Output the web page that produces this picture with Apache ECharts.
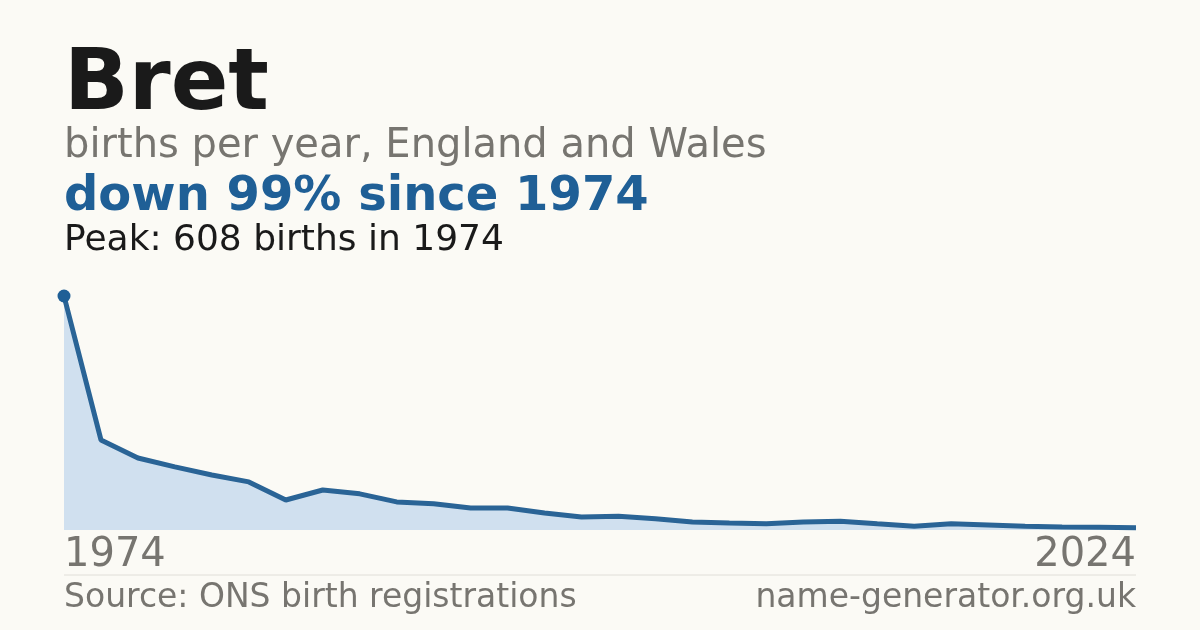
<!DOCTYPE html>
<html><head><meta charset="utf-8">
<script src="https://cdn.jsdelivr.net/npm/echarts@6/dist/echarts.min.js"></script>
<style>html,body{margin:0;background:#fbfaf5;}#c{width:1200px;height:630px;}</style>
</head><body><div id="c"></div>
<script>
const categories = Array.from({length:30},(_,i)=>String(i));
const births = [608,234,187,164,143,125,78,104,94,73,68,57,57,44,34,36,29,21,18,16,21,23,16,10,16,13,10,8,7,6];
const tickLabels = ['1974','2024'];
const chart = echarts.init(document.getElementById('c'));
const F = 'DejaVu Sans';
chart.setOption({
  backgroundColor:'#fbfaf5',
  animation:false,
  grid:{left:64,right:64,top:296,bottom:100},
  xAxis:{type:'category',data:categories,boundaryGap:false,show:false},
  yAxis:{type:'value',min:0,max:608,show:false},
  series:[{type:'line',
    itemStyle:{color:'#1f5f96'},
    lineStyle:{color:'#2a6496',width:5},
    areaStyle:{color:'#d0e0ef',opacity:1},
    data:births.map((v,i)=>i===0?{value:v,symbol:'circle',symbolSize:13}:{value:v,symbol:'none'})
  }],
  graphic:[
    {type:'text',left:64,top:44,style:{text:'Bret',font:'bold 85px '+F,fill:'#1a1a1a'}},
    {type:'text',left:64,top:127,style:{text:'births per year, England and Wales',font:'40px '+F,fill:'#777570'}},
    {type:'text',left:64,top:174,style:{text:'down 99% since 1974',font:'bold 48px '+F,fill:'#1f5f96'}},
    {type:'text',left:64,top:223,style:{text:'Peak: 608 births in 1974',font:'36px '+F,fill:'#1a1a1a'}},
    {type:'text',left:64,top:536,style:{text:tickLabels[0],font:'40px '+F,fill:'#777570'}},
    {type:'text',right:64,top:536,style:{text:tickLabels[1],font:'40px '+F,fill:'#777570',align:'right'}},
    {type:'line',shape:{x1:64,y1:575,x2:1136,y2:575},style:{stroke:'#e0ded8',lineWidth:1}},
    {type:'text',left:64,top:582,style:{text:'Source: ONS birth registrations',font:'33px '+F,fill:'#777570'}},
    {type:'text',right:64,top:582,style:{text:'name-generator.org.uk',font:'33px '+F,fill:'#777570',align:'right'}}
  ]
});
</script></body></html>
